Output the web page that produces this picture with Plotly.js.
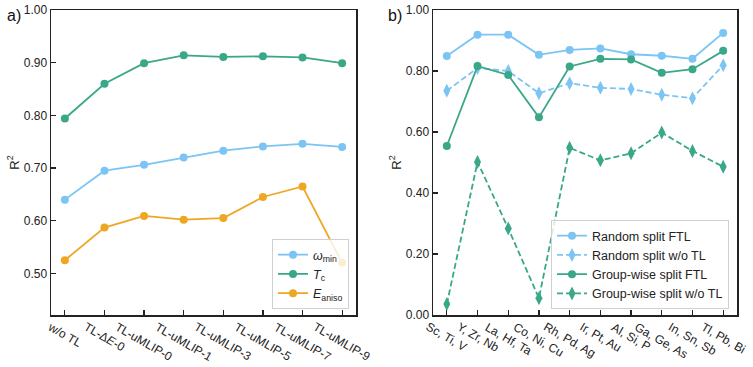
<!DOCTYPE html>
<html>
<head>
<meta charset="utf-8">
<script src="https://cdn.plot.ly/plotly-3.0.1.min.js"></script>
<style>body{margin:0;background:#fff;} #plot{width:753px;height:367px;}</style>
</head>
<body>
<div id="plot"></div>
<script>
// panel a
var modelsA = ['w/o TL', 'TL-Δ<i>E</i>-0', 'TL-uMLIP-0', 'TL-uMLIP-1', 'TL-uMLIP-3', 'TL-uMLIP-5', 'TL-uMLIP-7', 'TL-uMLIP-9'];
var omegaMin = [0.640, 0.695, 0.706, 0.720, 0.733, 0.741, 0.746, 0.740];
var tC = [0.794, 0.860, 0.899, 0.914, 0.911, 0.912, 0.910, 0.899];
var eAniso = [0.525, 0.587, 0.609, 0.602, 0.605, 0.645, 0.665, 0.520];

// panel b
var groupsB = ['Sc, Ti, V', 'Y, Zr, Nb', 'La, Hf, Ta', 'Co, Ni, Cu', 'Rh, Pd, Ag', 'Ir, Pt, Au', 'Al, Si, P', 'Ga, Ge, As', 'In, Sn, Sb', 'Tl, Pb, Bi'];
var randomFTL = [0.849, 0.919, 0.919, 0.853, 0.869, 0.874, 0.855, 0.850, 0.840, 0.925];
var randomNoTL = [0.735, 0.810, 0.800, 0.727, 0.760, 0.745, 0.741, 0.722, 0.711, 0.819];
var groupFTL = [0.554, 0.816, 0.787, 0.648, 0.815, 0.840, 0.838, 0.794, 0.806, 0.866];
var groupNoTL = [0.036, 0.502, 0.284, 0.055, 0.548, 0.507, 0.530, 0.598, 0.538, 0.486];

var blue = '#7cc4f4', green = '#3aa888', orange = '#eea722';
var font = 'Liberation Sans, Arial, sans-serif';

function line(x, y, name, color, xa, ya, legend, dashed) {
  return {
    x: x, y: y, name: name, type: 'scatter', mode: 'lines+markers',
    xaxis: xa, yaxis: ya, legend: legend,
    line: {color: color, width: 1.8, dash: dashed ? '6px,3px' : 'solid'},
    marker: {color: color, size: dashed ? 10 : 8, symbol: dashed ? 'diamond-tall' : 'circle'}
  };
}

var data = [
  line(modelsA, omegaMin, '<i>ω</i><sub>min</sub>', blue, 'x', 'y', 'legend', false),
  line(modelsA, tC, '<i>T</i><sub>c</sub>', green, 'x', 'y', 'legend', false),
  line(modelsA, eAniso, '<i>E</i><sub>aniso</sub>', orange, 'x', 'y', 'legend', false),
  line(groupsB, randomFTL, 'Random split FTL', blue, 'x2', 'y2', 'legend2', false),
  line(groupsB, randomNoTL, 'Random split w/o TL', blue, 'x2', 'y2', 'legend2', true),
  line(groupsB, groupFTL, 'Group-wise split FTL', green, 'x2', 'y2', 'legend2', false),
  line(groupsB, groupNoTL, 'Group-wise split w/o TL', green, 'x2', 'y2', 'legend2', true)
];

var axisBase = {
  showline: true, mirror: true, linecolor: '#222', linewidth: 1.5,
  ticks: 'inside', ticklen: 5, tickwidth: 1.2, tickcolor: '#222',
  showgrid: false, zeroline: false,
  tickfont: {family: font, size: 12, color: '#222'}
};

var y0 = 52 / 367, y1 = 357 / 367;

var annotations = [];
modelsA.forEach(function (m, i) {
  annotations.push({x: i, y: y0, xref: 'x', yref: 'paper', text: m, showarrow: false,
    textangle: 30, xanchor: 'center', yanchor: 'top', yshift: -2,
    font: {family: font, size: 12, color: '#222'}});
});
groupsB.forEach(function (g, i) {
  annotations.push({x: i, y: y0, xref: 'x2', yref: 'paper', text: g, showarrow: false,
    textangle: 30, xanchor: 'center', yanchor: 'top', yshift: -2,
    font: {family: font, size: 12, color: '#222'}});
});
annotations.push({x: 5 / 753, y: 1 - 15 / 367, xref: 'paper', yref: 'paper', text: 'a)', showarrow: false,
  xanchor: 'left', yanchor: 'middle', font: {family: font, size: 16, color: '#111'}});
annotations.push({x: 386 / 753, y: 1 - 15 / 367, xref: 'paper', yref: 'paper', text: 'b)', showarrow: false,
  xanchor: 'left', yanchor: 'middle', font: {family: font, size: 16, color: '#111'}});

var legendBase = {
  bgcolor: 'rgba(255,255,255,0.8)', bordercolor: '#d0d0d0', borderwidth: 1,
  font: {family: font, size: 12.5, color: '#222'}, xanchor: 'right', yanchor: 'bottom',
  tracegroupgap: 0, itemwidth: 30
};

var layout = {
  width: 753, height: 367,
  margin: {l: 0, r: 0, t: 0, b: 0},
  paper_bgcolor: '#fff', plot_bgcolor: '#fff',
  font: {family: font, color: '#222'},
  xaxis: Object.assign({}, axisBase, {domain: [51 / 753, 356 / 753], type: 'category',
    range: [-0.35, 7.35], showticklabels: false, anchor: 'y'}),
  yaxis: Object.assign({}, axisBase, {domain: [y0, y1], range: [0.421, 1.0],
    tick0: 0, dtick: 0.1, tickformat: '.2f', anchor: 'x',
    title: {text: 'R<sup>2</sup>', font: {family: font, size: 13}, standoff: 1}}),
  xaxis2: Object.assign({}, axisBase, {domain: [433 / 753, 737 / 753], type: 'category',
    range: [-0.45, 9.45], showticklabels: false, anchor: 'y2'}),
  yaxis2: Object.assign({}, axisBase, {domain: [y0, y1], range: [0, 1.0],
    tick0: 0, dtick: 0.2, tickformat: '.2f', anchor: 'x2',
    title: {text: 'R<sup>2</sup>', font: {family: font, size: 13}, standoff: 1}}),
  legend: Object.assign({}, legendBase, {x: 349 / 753, y: 58 / 367}),
  legend2: Object.assign({}, legendBase, {x: 729 / 753, y: 58 / 367}),
  annotations: annotations,
  showlegend: true
};

Plotly.newPlot('plot', data, layout, {displayModeBar: false, staticPlot: true});
</script>
</body>
</html>
